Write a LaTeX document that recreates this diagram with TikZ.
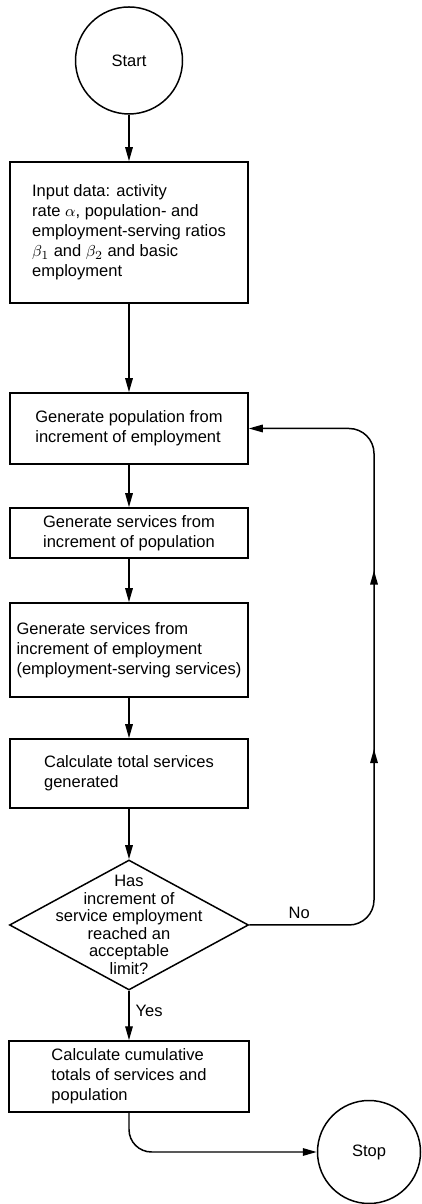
\documentclass[tikz,border=0pt]{standalone}
\usepackage{fontspec}
\setmainfont{Liberation Sans}
\usetikzlibrary{shapes.geometric,arrows.meta,decorations.markings}

\def\fsize{\fontsize{9.4}{11.4}\selectfont}
\def\tipsize{length=0.28cm,width=0.15cm}

\begin{document}
\begin{tikzpicture}[every node/.style={font=\fsize},
    box/.style={draw, rectangle, line width=0.85pt, minimum width=4.76cm, inner sep=0pt, align=left},
    term/.style={draw, circle, line width=0.85pt, minimum size=2.06cm, inner sep=0pt},
    decision/.style={draw, diamond, line width=0.85pt, minimum width=4.78cm, minimum height=2.6cm, inner sep=0pt},
    flow/.style={line width=0.85pt, -{Triangle[\tipsize]}}]
      \useasboundingbox (0,0) rectangle (8.42,24.08);
      \node[term, minimum size=2.14cm] (start) at (2.58, 22.87) {Start};
      \node[box, minimum height=2.82cm] (input) at (2.58, 19.43) {Input data: activity\\rate $\alpha$, population- and\\employment-serving ratios\\$\beta_1$ and $\beta_2$ and basic\\employment};
      \node[box, minimum height=1.42cm] (genpop) at (2.58, 15.51) {Generate population from\\increment of employment};
      \node[box, minimum height=1.0cm] (genserv) at (2.58, 13.42) {Generate services from\\increment of population};
      \node[box, minimum height=1.88cm] (genemp) at (2.58, 11.08) {Generate services from\\increment of employment\\(employment-serving services)};
      \node[box, minimum height=1.38cm] (total) at (2.58, 8.61) {Calculate total services\\generated};
      \node[decision] (dia) at (2.58, 5.58) {};
      \node[align=center, font=\fontsize{9.4}{10}\selectfont] (diatext) at (dia) {Has\\increment of\\service employment\\reached an\\acceptable\\limit?};
      \node[box, minimum width=4.8cm, minimum height=1.42cm] (cumul) at (2.58, 2.55) {Calculate cumulative\\totals of services and\\population};
      \node[term] (stop) at (7.38, 1.04) {Stop};
      \coordinate (loop) at (7.48, 10);

      \draw[flow] (start) -- (input);
      \draw[flow] (input) -- (genpop);
      \draw[flow] (genpop) -- (genserv);
      \draw[flow] (genserv) -- (genemp);
      \draw[flow] (genemp) -- (total);
      \draw[flow] (total) -- (dia.north);
      \draw[flow] (dia.south) -- node[right, pos=0.4] {Yes} (cumul);
      \draw[flow, rounded corners=0.5cm, postaction={decorate},
        decoration={markings,
          mark=at position 5.8cm with {\arrow{Triangle[\tipsize]}},
          mark=at position 9.37cm with {\arrow{Triangle[\tipsize]}}}]
        (dia.east) -| node[pos=0.2, above] {No} (loop) |- (genpop.east);
      \draw[flow, rounded corners=0.45cm] (cumul.south) |- (stop.west);
\end{tikzpicture}
\end{document}
